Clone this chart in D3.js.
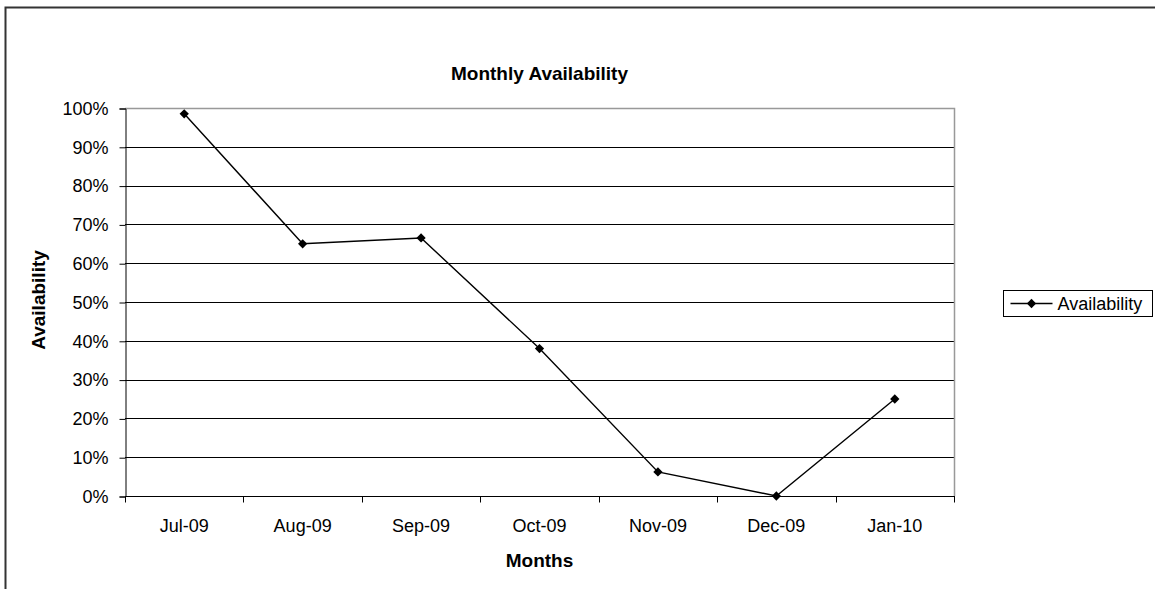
<!DOCTYPE html>
<html>
<head>
<meta charset="utf-8">
<script src="https://cdn.jsdelivr.net/npm/d3@7/dist/d3.min.js"></script>
<style>
  html, body { margin: 0; padding: 0; background: #fff; }
  svg { display: block; font-family: "Liberation Sans", Arial, sans-serif; }
</style>
</head>
<body>
<svg id="chart" width="1155" height="589"></svg>
<script>
// Monthly availability data
const months = ["Jul-09", "Aug-09", "Sep-09", "Oct-09", "Nov-09", "Dec-09", "Jan-10"];
const availability = [0.985, 0.65, 0.665, 0.38, 0.062, 0.0, 0.25];
const yTicks = [0, 0.1, 0.2, 0.3, 0.4, 0.5, 0.6, 0.7, 0.8, 0.9, 1.0];
const seriesName = "Availability";

const FONT = "Liberation Sans, Arial, sans-serif";
const svg = d3.select("#chart");

const plot = { left: 125, right: 954, top: 108, bottom: 496 };

// Chart frame (extends past the window on the right and bottom)
svg.append("path")
  .attr("d", "M5.5,600 L5.5,7.5 L1170,7.5")
  .attr("fill", "none")
  .attr("stroke", "#333")
  .attr("stroke-width", 2);

const x = d3.scaleBand().domain(months).range([plot.left, plot.right]).padding(0);
const y = d3.scaleLinear().domain([0, 1]).range([plot.bottom, plot.top]);

// Horizontal gridlines
svg.append("g")
  .selectAll("line")
  .data(yTicks.filter(t => t > 0 && t < 1))
  .join("line")
  .attr("x1", plot.left).attr("x2", plot.right)
  .attr("y1", d => Math.round(y(d)) + 0.5).attr("y2", d => Math.round(y(d)) + 0.5)
  .attr("stroke", "#000").attr("stroke-width", 1);

// Plot area border on top and right
svg.append("path")
  .attr("d", `M${plot.left},${plot.top + 0.5} L${plot.right + 0.5},${plot.top + 0.5} L${plot.right + 0.5},${plot.bottom}`)
  .attr("fill", "none").attr("stroke", "#999").attr("stroke-width", 1.5);

// Y axis
const yAxis = d3.axisLeft(y).tickValues(yTicks).tickFormat(d3.format(".0%")).tickSize(6).tickPadding(11);
const gy = svg.append("g").attr("transform", `translate(${plot.left + 0.5},0.5)`).call(yAxis);
gy.attr("font-family", FONT).attr("font-size", 18);
gy.select(".domain").attr("stroke", "#000");
gy.selectAll(".tick line").attr("stroke", "#000");
gy.selectAll(".tick text").attr("fill", "#000");

// X axis with tick marks between categories
const gx = svg.append("g").attr("transform", `translate(0,${plot.bottom + 0.5})`);
gx.append("line")
  .attr("x1", plot.left).attr("x2", plot.right + 1)
  .attr("stroke", "#000");
const boundaries = months.map(m => x(m)).concat([plot.right]);
gx.selectAll("line.tk").data(boundaries).join("line").attr("class", "tk")
  .attr("x1", d => Math.round(d) + 0.5).attr("x2", d => Math.round(d) + 0.5)
  .attr("y1", 0).attr("y2", 6).attr("stroke", "#000");
gx.selectAll("text").data(months).join("text")
  .attr("x", d => x(d) + x.bandwidth() / 2)
  .attr("y", 35)
  .attr("text-anchor", "middle")
  .attr("font-size", 18)
  .text(d => d);

// Series line
const line = d3.line()
  .x((d, i) => x(months[i]) + x.bandwidth() / 2)
  .y(d => y(d));
svg.append("path")
  .datum(availability)
  .attr("d", line)
  .attr("fill", "none")
  .attr("stroke", "#000")
  .attr("stroke-width", 1.4);

// Diamond markers
const diamond = d3.symbol().type(d3.symbolDiamond2).size(55);
svg.append("g").selectAll("path")
  .data(availability)
  .join("path")
  .attr("transform", (d, i) => `translate(${x(months[i]) + x.bandwidth() / 2},${y(d)})`)
  .attr("d", diamond)
  .attr("fill", "#000");

// Title and axis titles
svg.append("text")
  .attr("x", (plot.left + plot.right) / 2).attr("y", 80)
  .attr("text-anchor", "middle")
  .attr("font-size", 19).attr("font-weight", "bold")
  .text("Monthly Availability");

svg.append("text")
  .attr("x", (plot.left + plot.right) / 2).attr("y", 567)
  .attr("text-anchor", "middle")
  .attr("font-size", 19).attr("font-weight", "bold")
  .text("Months");

svg.append("text")
  .attr("transform", `translate(45,300) rotate(-90)`)
  .attr("text-anchor", "middle")
  .attr("font-size", 19).attr("font-weight", "bold")
  .text("Availability");

// Legend
const lg = svg.append("g").attr("transform", "translate(1003.5,290.5)");
lg.append("rect").attr("width", 149).attr("height", 26)
  .attr("fill", "#fff").attr("stroke", "#000").attr("stroke-width", 1);
lg.append("line").attr("x1", 7).attr("x2", 49).attr("y1", 13).attr("y2", 13)
  .attr("stroke", "#000").attr("stroke-width", 1.4);
lg.append("path").attr("transform", "translate(28,13)").attr("d", diamond).attr("fill", "#000");
lg.append("text").attr("x", 54).attr("y", 19.5).attr("font-size", 18).text(seriesName);
</script>
</body>
</html>
